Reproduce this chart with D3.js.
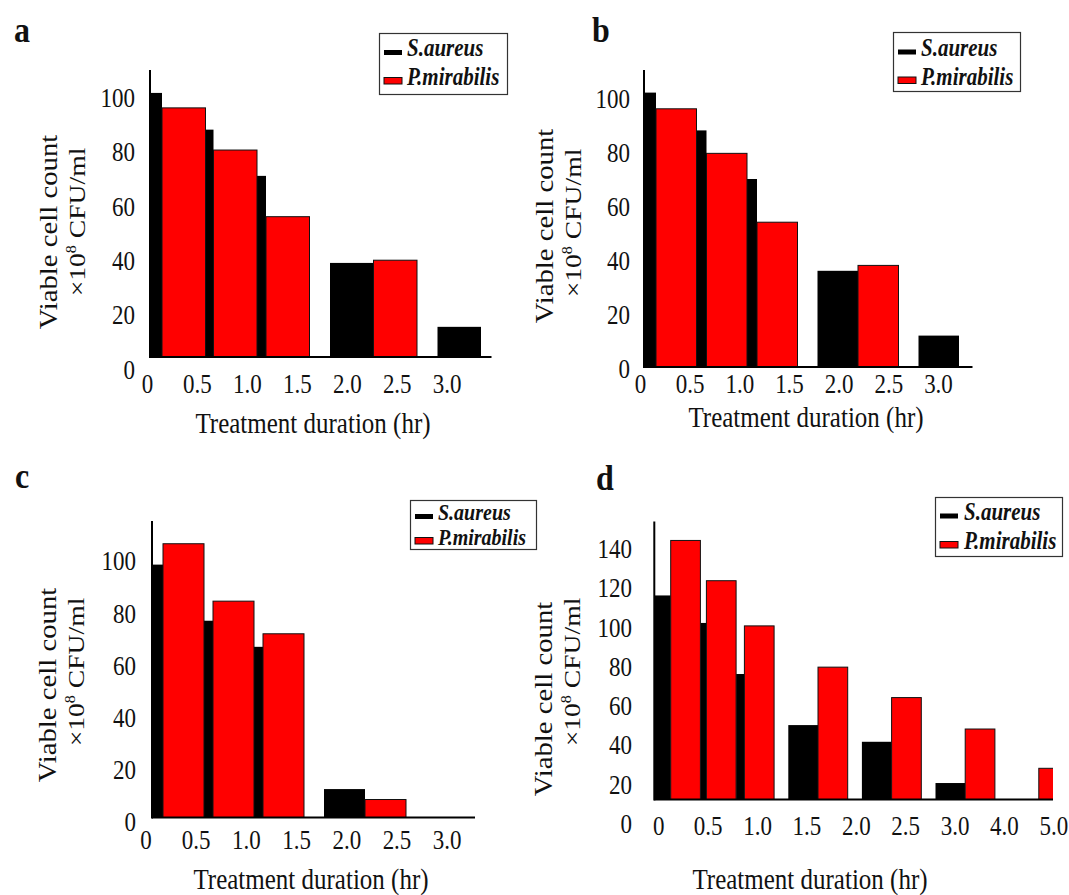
<!DOCTYPE html>
<html><head><meta charset="utf-8">
<script src="https://cdn.jsdelivr.net/npm/d3@7"></script>
<style>
body{margin:0;background:#fff}
svg{display:block}
text{font-family:"Liberation Serif","Times New Roman",serif;fill:#111}
</style>
</head><body>
<svg id="chart" width="1069" height="895"></svg>
<script>
// ---------------- data ----------------
const seriesNames = ["S.aureus", "P.mirabilis"];
const hoursABC = ["0", "0.5", "1.0", "1.5", "2.0", "2.5", "3.0"];
const hoursD = ["0", "0.5", "1.0", "1.5", "2.0", "2.5", "3.0", "4.0", "5.0"];
const yTicksABC = [0, 20, 40, 60, 80, 100];
const yTicksD = [0, 20, 40, 60, 80, 100, 120, 140];

const aureusA    = [101.5, 88, 71, 39, 15.5];
const mirabilisA = [96, 80.5, 56, 40, 0];
const aureusB    = [102, 88, 70, 36, 12];
const mirabilisB = [96, 79.5, 54, 38, 0];
const aureusC    = [98.5, 77, 67, 12.5, 0];
const mirabilisC = [106.5, 84.5, 72, 8.5, 0];
const aureusD    = [116, 102, 76, 50, 41.5, 20.5, 0];
const mirabilisD = [144, 123.5, 100.5, 79.5, 64, 48, 28];

const xTitle = "Treatment duration (hr)";
const yTitle1 = "Viable cell count";

// ---------------- layout / style ----------------
const S = 1.15;            // vertical stretch of the original figure's text
const RED = "#ff0000", BLACK = "#000";
const SERIF = '"Liberation Serif","Times New Roman",serif';
const TICK_FS = "23px";

const panels = [
  { letter: "a", aureus: aureusA, mirabilis: mirabilisA, xTicks: hoursABC, yTicks: yTicksABC, yMax: 100,
    axisX: 150, axisY: 357, topY: 70, endX: 491.5, yRange: [369, 97],
    barW: 43.5, leads: [12, 8, 9], gap: 20.5,
    xTickRange: [147, 446.7], xTickY: 384, yTickRight: 135,
    xTitlePos: [313, 423], yT1: [48, 232], yT2: [77, 222], letterPos: [14, 42],
    legend: { x: 379, y: 33, w: 128, h: 61, rows: [56, 85], tx: 407, font: 21 } },
  { letter: "b", aureus: aureusB, mirabilis: mirabilisB, xTicks: hoursABC, yTicks: yTicksABC, yMax: 100,
    axisX: 644, axisY: 367, topY: 70, endX: 972.5, yRange: [368, 98],
    barW: 40.5, leads: [12, 10, 10], gap: 20,
    xTickRange: [640, 938], xTickY: 384, yTickRight: 630,
    xTitlePos: [806, 417], yT1: [544, 226], yT2: [573, 223], letterPos: [592, 42],
    legend: { x: 893, y: 32, w: 127, h: 59, rows: [55.5, 84.5], tx: 921, font: 21 } },
  { letter: "c", aureus: aureusC, mirabilis: mirabilisC, xTicks: hoursABC, yTicks: yTicksABC, yMax: 100,
    axisX: 152, axisY: 817.5, topY: 521, endX: 475, yRange: [821.7, 560.7],
    barW: 41, leads: [11, 9, 9], gap: 20,
    xTickRange: [145.5, 446.7], xTickY: 840, yTickRight: 136,
    xTitlePos: [311, 879], yT1: [47, 685], yT2: [76, 672], letterPos: [15, 488],
    legend: { x: 410, y: 500, w: 126, h: 49, rows: [520, 545], tx: 438, font: 20 } },
  { letter: "d", aureus: aureusD, mirabilis: mirabilisD, xTicks: hoursD, yTicks: yTicksD, yMax: 140,
    axisX: 654.3, axisY: 799.5, topY: 521.5, endX: 1053, yRange: [823.3, 548.3],
    barW: 29.7, leads: [16.4, 6, 8.3], gap: 14.2,
    xTickRange: [658.3, 1053.3], xTickY: 826, yTickRight: 632,
    xTitlePos: [810, 879], yT1: [543, 699], yT2: [572, 672], letterPos: [596, 490],
    legend: { x: 935, y: 497, w: 127, h: 59, rows: [519.5, 549], tx: 964, font: 21 } }
];

const svg = d3.select("#chart");
svg.append("rect").attr("width", 1069).attr("height", 895).attr("fill", "#fff");

function stretchedText(g, x, y, str) {
  return g.append("text").attr("transform", `translate(${x},${y}) scale(1,${S})`)
    .style("font-family", SERIF).text(str);
}

// group geometry in "bar width" units
function groupUnits(n, leadsU, gapU) {
  const out = []; let x = 0;
  for (let i = 0; i < n; i++) {
    let b0, b1;
    if (i < leadsU.length) { b0 = x; b1 = x + leadsU[i]; }
    else { x += gapU; b0 = x; b1 = x + 1; }
    out.push({ b0, b1, r0: b1, r1: b1 + 1 });
    x = b1 + 1;
  }
  return out;
}

panels.forEach((p, pi) => {
  const g = svg.append("g");
  // yRange: pixel position of value 0 and of value yMax
  const y = d3.scaleLinear().domain([0, p.yMax]).range(p.yRange);

  const units = groupUnits(p.aureus.length, p.leads.map(l => l / p.barW), p.gap / p.barW);
  const x = d3.scaleLinear().domain([0, 1]).range([p.axisX, p.axisX + p.barW]);

  const clipId = "clip" + pi;
  g.append("clipPath").attr("id", clipId).append("rect")
    .attr("x", p.axisX).attr("y", 0).attr("width", p.endX - p.axisX).attr("height", p.axisY);

  const bars = g.append("g").attr("clip-path", `url(#${clipId})`);
  const rows = p.aureus.map((v, i) => ({ i, aureus: v, mirabilis: p.mirabilis[i], u: units[i] }));

  bars.selectAll("rect.aur").data(rows.filter(d => y(d.aureus) < p.axisY)).join("rect")
    .attr("class", "aur")
    .attr("x", d => x(d.u.b0)).attr("width", d => x(d.u.b1) - x(d.u.b0))
    .attr("y", d => y(d.aureus)).attr("height", d => p.axisY - y(d.aureus))
    .attr("fill", BLACK);

  bars.selectAll("rect.mir").data(rows.filter(d => y(d.mirabilis) < p.axisY)).join("rect")
    .attr("class", "mir")
    .attr("x", d => x(d.u.r0)).attr("width", d => x(d.u.r1) - x(d.u.r0))
    .attr("y", d => y(d.mirabilis)).attr("height", d => p.axisY - y(d.mirabilis))
    .attr("fill", RED).attr("stroke", "#111").attr("stroke-width", 1);

  // axis lines
  g.append("line").attr("x1", p.axisX).attr("x2", p.endX).attr("y1", p.axisY).attr("y2", p.axisY)
    .attr("stroke", BLACK).attr("stroke-width", 2);
  g.append("line").attr("x1", p.axisX).attr("x2", p.axisX).attr("y1", p.axisY + 1).attr("y2", p.topY)
    .attr("stroke", BLACK).attr("stroke-width", 2);

  // x tick labels
  const xt = d3.scalePoint().domain(p.xTicks).range(p.xTickRange);
  const xa = g.append("g").attr("transform", `translate(0,${p.xTickY})`)
    .call(d3.axisBottom(xt).tickSize(0).tickPadding(0));
  xa.select(".domain").remove();
  xa.attr("font-family", SERIF).attr("font-size", 23);
  xa.selectAll("text").attr("y", 0).attr("dy", "0.35em")
    .attr("transform", `scale(1,${S})`)
    .style("font-family", SERIF).style("font-size", TICK_FS).attr("fill", "#111");

  // y tick labels
  const ya = g.append("g").attr("transform", `translate(${p.yTickRight},0)`)
    .call(d3.axisLeft(y).tickValues(p.yTicks).tickFormat(d3.format("d")).tickSize(0).tickPadding(0));
  ya.select(".domain").remove();
  ya.attr("font-family", SERIF).attr("font-size", 23);
  ya.selectAll("text").attr("x", 0).attr("dy", "0.35em")
    .attr("transform", `scale(1,${S})`)
    .style("font-family", SERIF).style("font-size", TICK_FS).attr("fill", "#111");

  // titles
  stretchedText(g, p.xTitlePos[0], p.xTitlePos[1], xTitle)
    .attr("text-anchor", "middle").attr("dy", "0.35em").style("font-size", "25px");

  g.append("text").attr("transform", `translate(${p.yT1[0]},${p.yT1[1]}) scale(1,${S}) rotate(-90)`)
    .attr("text-anchor", "middle").attr("dy", "0.35em")
    .style("font-family", SERIF).style("font-size", "25px").text(yTitle1);
  const t2 = g.append("text").attr("transform", `translate(${p.yT2[0]},${p.yT2[1]}) scale(1,${S}) rotate(-90)`)
    .attr("text-anchor", "middle").attr("dy", "0.35em")
    .style("font-family", SERIF).style("font-size", "24px");
  t2.append("tspan").text("×10");
  t2.append("tspan").text("8").style("font-size", "14px").attr("dy", "-9");
  t2.append("tspan").text(" CFU/ml").attr("dy", "9");

  // panel letter
  stretchedText(g, p.letterPos[0], p.letterPos[1], p.letter)
    .style("font-size", "32px").style("font-weight", "bold");

  // legend
  const L = p.legend;
  const lg = g.append("g");
  lg.append("rect").attr("x", L.x + 0.5).attr("y", L.y + 0.5).attr("width", L.w).attr("height", L.h)
    .attr("fill", "#fff").attr("stroke", "#333").attr("stroke-width", 1.2);
  seriesNames.forEach((name, k) => {
    const by = L.rows[k];
    if (k === 0) {
      lg.append("rect").attr("x", L.x + 5).attr("y", by - 6).attr("width", 18).attr("height", 5).attr("fill", BLACK);
    } else {
      lg.append("rect").attr("x", L.x + 5).attr("y", by - 7.5).attr("width", 18).attr("height", 6.5)
        .attr("fill", RED).attr("stroke", "#111").attr("stroke-width", 1);
    }
    stretchedText(lg, L.tx, by, name)
      .style("font-size", L.font + "px").style("font-weight", "bold").style("font-style", "italic");
  });
});
</script>
</body></html>
